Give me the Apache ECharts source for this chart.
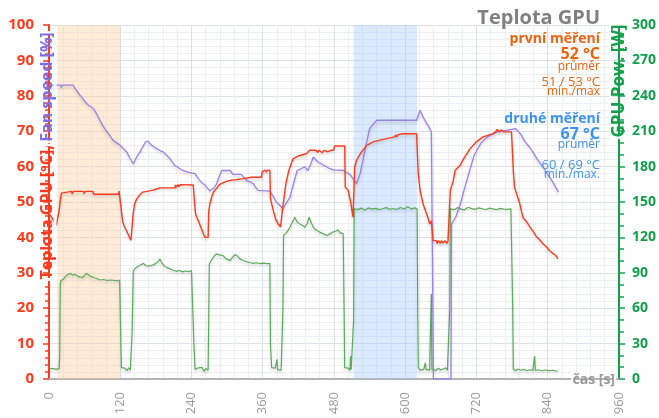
<!DOCTYPE html>
<html><head><meta charset="utf-8">
<script src="https://cdn.jsdelivr.net/npm/echarts@6/dist/echarts.min.js"></script>
<style>html,body{margin:0;padding:0;background:#fff}#c{width:659px;height:418px}</style>
</head><body><div id="c"></div>
<script>
// time ticks [s]
const timeTicks = [0,120,240,360,480,600,720,840,960];
// shaded test phases [start s, end s]
const phase1 = [14, 120];
const phase2 = [513, 620];
// GPU temperature [°C]
const temp = [[0,46.8],[4,45.8],[8,44.6],[12,43.4],[15,43.0],[17,47.5],[19,50.5],[21,52.5],[24,53.0],[38,53.0],[39,52.3],[41,53.0],[58,53.0],[59,52.4],[61,53.0],[74,53.0],[75,52.2],[117,52.2],[118,53.1],[121,53.1],[122,47.5],[124,44.5],[127,43.0],[131,41.8],[135,40.2],[138,39.2],[141,39.2],[142,47],[144,49.3],[147,50.6],[150,51.4],[153,52],[158,52.8],[172,53.2],[180,53.6],[187,54.0],[212,54.0],[213,54.8],[215,54.2],[217,54.9],[219,54.3],[221,54.9],[243,54.8],[245,50],[247,46.5],[252,44.5],[256,42.8],[260,41],[263,40.0],[268,40.0],[269,47.2],[271,49.5],[274,51.4],[277,52.8],[282,53.8],[286,54.7],[290,55.2],[296,55.6],[304,56.1],[314,56.3],[327,56.6],[341,57.0],[358,57.0],[359,58.5],[361,58.9],[362,58.3],[364,59.0],[366,58.4],[368,59.0],[372,59.0],[373,51],[375,49.5],[378,47.5],[382,45.0],[386,43.8],[390,43.0],[392,42.9],[393,47.5],[396,51.4],[399,55.2],[404,58.9],[408,60.8],[411,62.2],[420,63.0],[434,63.7],[439,64.6],[450,64.6],[452,64.0],[455,64.6],[460,63.9],[463,64.6],[470,64.2],[475,64.6],[479,64.6],[481,65.8],[498,65.8],[499,54.2],[504,53.3],[508,50],[512,45.7],[515,59.9],[518,61.8],[526,64.1],[535,66.0],[546,67.0],[568,67.9],[582,68.4],[584,69.0],[586,68.4],[588,69.0],[590,68.5],[596,69.3],[619,69.3],[622,58],[625,53.3],[630,49.5],[639,45.2],[641,43.8],[644,44.7],[647,39.1],[652,39.1],[654,38.3],[656,39.1],[659,38.3],[661,39.1],[664,38.4],[667,39.1],[670,38.3],[672,39],[675,38.5],[676,53.3],[681,56.1],[684,58.9],[692,60.3],[700,62.7],[709,65.0],[720,67.0],[731,68.4],[748,69.3],[752,69.8],[755,70.5],[758,69.8],[762,70.4],[766,69.8],[779,69.8],[782,58.9],[784,54.2],[793,49.5],[798,45.7],[804,44.5],[810,43.0],[815,41.8],[821,40.2],[826,39.4],[832,38.2],[838,37.3],[843,36.3],[849,35.4],[853,35.0],[857,34.0]];
// fan speed [%]
const fan = [[0,83.0],[20,83.0],[21,82.3],[22,83.0],[41,83.0],[44,82],[48,81.2],[52,80.2],[57,79.2],[61,78.3],[66,77.4],[75,76.4],[79,75.3],[83,74.0],[87,72.7],[92,71.2],[96,70.2],[100,69.3],[104,68.4],[108,67.4],[114,66.7],[120,66.0],[125,65.1],[131,64.1],[136,62.5],[142,60.8],[147,62.5],[153,64.1],[158,65.6],[163,67.1],[167,67.1],[173,66.0],[179,65.3],[186,64.6],[193,64.1],[198,63.2],[204,62.2],[208,61.2],[212,60.3],[218,59.7],[223,59.1],[235,58.4],[246,58.0],[250,57.0],[254,56.1],[258,55.4],[263,54.7],[267,53.9],[271,53.1],[277,53.9],[282,55.0],[286,56.9],[291,58.9],[305,58.9],[310,57.8],[324,57.8],[328,57.0],[333,56.1],[344,55.2],[348,54.2],[352,53.3],[372,53.1],[378,51.5],[383,50.0],[389,49.0],[394,48.1],[400,49.8],[406,51.4],[410,54],[414,56.5],[418,58.9],[431,59.9],[436,58.9],[441,60.8],[445,62.7],[449,62.0],[453,61.3],[464,60.3],[471,59.6],[479,59.1],[496,58.9],[507,57.8],[512,56.6],[518,55.2],[524,58.0],[528,61.2],[532,64.6],[536,67.6],[540,70.7],[546,72.0],[552,73.1],[619,73.1],[625,75.9],[630,74.0],[635,72.5],[640,71.2],[644,69.8],[647,69.8],[647.5,0],[677,0],[678,43.8],[685,45.7],[693,49.5],[699,53.3],[707,58.0],[716,63.2],[727,66.5],[738,68.4],[755,69.8],[770,70.2],[786,70.7],[794,69.3],[802,67.0],[810,65.4],[817,63.6],[822,62.2],[828,60.8],[834,59.4],[839,58.0],[845,56.6],[850,55.2],[854,54.0],[858,52.8]];
// GPU power [W]
const power = [[0,8.5],[3,7.2],[6,9.0],[9,7.5],[12,8.2],[15,7.4],[17,8.8],[18,20],[19,80],[20,83.3],[24,84.5],[28,87],[32,88.5],[36,89.5],[40,88],[44,88.8],[48,87.2],[52,86.5],[57,86.2],[60,87.5],[63,89.5],[66,88],[70,87],[75,86.2],[80,85.2],[86,83.9],[92,84.3],[98,83.5],[105,83.9],[112,83.3],[119,83.5],[120,83.3],[121,30],[122,9.6],[125,8],[128,9.2],[131,7],[134,9.5],[137,7.5],[139,8.5],[140,40],[142,91.8],[146,94],[150,95.5],[155,96.8],[159,98.0],[163,96],[167,95.6],[170,95.2],[175,96.5],[180,98],[184,99.7],[187,101.5],[190,98.5],[194,96],[198,94.6],[203,93.5],[208,92.4],[215,91.2],[220,92],[225,90.8],[230,91.5],[236,91.0],[240,92.0],[243,91.8],[244,30],[246,8.2],[249,7],[252,9.5],[255,8],[258,9.8],[261,6.5],[264,8.8],[268,7.5],[269,50],[270,97.5],[274,101],[278,104],[282,106],[285,107.4],[289,105],[293,104.6],[298,102],[301,101.5],[305,100.3],[309,103],[313,105.5],[315,106.5],[318,104],[321,102],[324,100.9],[329,100],[334,99.2],[339,98.5],[344,98.0],[350,98.5],[356,97.8],[362,98.2],[367,97.8],[372,98.0],[373,30],[375,9.6],[378,8],[381,9.2],[384,16.7],[385,8],[388,9.5],[391,7.5],[393,8.5],[394,60],[395,121.6],[400,124],[404,127],[408,131],[412,135],[414,137.1],[418,133],[422,131.5],[427,130],[431,128.6],[435,132],[438,137.1],[442,132],[446,128],[451,125.8],[456,124.5],[462,123],[468,121.6],[473,123],[478,124.5],[483,125.2],[487,126.4],[490,124],[493,125.5],[495.5,123],[497,60],[498,9.6],[501,8],[504,9.2],[507,7.5],[508,19.5],[509,8],[512,8.8],[513,50],[514,144.2],[520,143.5],[526,144.8],[532,143.2],[538,145],[544,144],[550,144.6],[556,143.5],[562,144.3],[568,145.2],[574,143.8],[580,144.5],[586,143.6],[592,145.4],[598,144],[604,146],[610,144.2],[616,145],[620,144.2],[621,60],[622,9.6],[625,7.5],[628,9],[631,8],[634,13.9],[635,8.2],[638,9.5],[641,7.5],[643,9],[644,72],[645,8],[648,8.8],[652,7.2],[656,9.1],[660,7.6],[664,8.4],[668,9.5],[671,7.4],[674,8.2],[675,60],[676,144.2],[682,143.5],[688,145.2],[694,144],[700,143.4],[706,145.6],[712,144.4],[718,143.8],[724,145],[730,144.3],[736,143.6],[742,144.8],[748,144.1],[754,143.5],[760,144.6],[766,144],[772,143.7],[778,144.2],[780,144.2],[781,60],[782,8.2],[786,7],[790,8.5],[795,7.4],[800,8.2],[805,7.0],[810,7.8],[815,7.5],[818,19.5],[819,7.2],[825,7.8],[830,7.0],[836,7.6],[842,7.1],[848,7.4],[853,6.9],[857,6.8]];

const FONT = 'Open Sans';
const RED = '#ff3a1c', PURPLE = '#9a82ea', GREEN = '#5aac5a', AXG = '#12a04a';
const ORANGE_T = '#ea640e', BLUE_T = '#3c92f0';

const shadow = {shadowColor:'rgba(0,0,0,0.18)', shadowBlur:3, shadowOffsetY:2};
const chart = echarts.init(document.getElementById('c'), null, {renderer:'canvas'});
function txt(x, y, s, size, color, weight){
  return {type:'text', x:x, y:y, z:100, zlevel:1, style:{text:s, fill:color, font: (weight||'normal')+' '+size+'px "'+FONT+'"', align:'right', verticalAlign:'middle'}};
}
const halo = {textBorderColor:'#fff', textBorderWidth:2.5, strokeFirst:true};
chart.setOption({
  animation:false,
  grid:{left:49, right:40, top:25, bottom:39},
  xAxis:{type:'value', min:0, max:960, interval:120,
    axisLine:{onZero:false, lineStyle:{color:'#b4b4b4', width:2}},
    axisTick:{show:false},
    axisLabel:{rotate:90, color:'#9a9a9a', fontSize:13, fontFamily:FONT, margin:13,
      customValues: timeTicks},
    splitLine:{show:true, lineStyle:{color:'#dcdfe6', width:1}},
    minorTick:{show:false, splitNumber:5},
    minorSplitLine:{show:true, lineStyle:{color:'#eceef2', width:1}}
  },
  yAxis:[
    {type:'value', min:0, max:100, interval:10, position:'left',
      axisLine:{show:true, onZero:false, lineStyle:{color:RED, width:2}},
      axisTick:{show:true, length:6, lineStyle:{color:RED, width:1.5}},
      minorTick:{show:true, splitNumber:5, length:4, lineStyle:{color:RED, width:1.5}},
      axisLabel:{color:RED, fontSize:15, fontWeight:'bold', fontFamily:FONT, margin:15},
      splitLine:{show:true, lineStyle:{color:'#dcdfe6', width:1}},
      minorSplitLine:{show:true, lineStyle:{color:'#eceef2', width:1}}
    },
    {type:'value', min:0, max:300, interval:30, position:'right',
      axisLine:{show:true, onZero:false, lineStyle:{color:AXG, width:2}},
      axisTick:{show:true, length:6, lineStyle:{color:AXG, width:1.5}},
      minorTick:{show:true, splitNumber:3, length:5, lineStyle:{color:AXG, width:1.5}},
      axisLabel:{color:AXG, fontSize:14, fontWeight:'bold', fontFamily:FONT, margin:13},
      splitLine:{show:false}
    }
  ],
  series:[
    {type:'line', name:'bands', data:[], silent:true,
      markArea:{silent:true, data:[
        [{xAxis:phase1[0], itemStyle:{color:'rgba(252,210,165,0.42)'}},{xAxis:phase1[1]}],
        [{xAxis:phase2[0], itemStyle:{color:'rgba(160,200,250,0.38)'}},{xAxis:phase2[1]}]
      ]}},
    {type:'line', name:'GPU Pow.', yAxisIndex:1, data:power, showSymbol:false, lineStyle:Object.assign({color:GREEN, width:1.2}, shadow), itemStyle:{color:GREEN}},
    {type:'line', name:'Fan speed', yAxisIndex:0, data:fan, showSymbol:false, lineStyle:Object.assign({color:PURPLE, width:1.3}, shadow), itemStyle:{color:PURPLE}},
    {type:'line', name:'Teplota GPU', yAxisIndex:0, data:temp, showSymbol:false, lineStyle:Object.assign({color:RED, width:1.4}, shadow), itemStyle:{color:RED}}
  ],
  graphic:[
    txt(600, 18, 'Teplota GPU', 20, '#808080', 'bold'),
    txt(600, 39, 'první měření', 14, ORANGE_T, 'bold'),
    txt(600, 54, '52 °C', 16, ORANGE_T, 'bold'),
    txt(600, 67, 'průměr', 12, ORANGE_T),
    txt(600, 82, '51 / 53 °C', 13, ORANGE_T),
    txt(600, 92, 'min./max', 12, ORANGE_T),
    txt(600, 119, 'druhé měření', 14, BLUE_T, 'bold'),
    txt(600, 134, '67 °C', 16, BLUE_T, 'bold'),
    txt(600, 145, 'průměr', 12, BLUE_T),
    txt(600, 165, '60 / 69 °C', 13, BLUE_T),
    txt(600, 175, 'min./max.', 12, BLUE_T),
    {type:'text', x:47, y:156, rotation:Math.PI/2, z:100, zlevel:1, style:Object.assign({
      text:'{a|Teplota GPU [°C],} {b|Fan speed [%]}', align:'center', verticalAlign:'middle',
      rich:{a:Object.assign({fill:RED, fontSize:16, fontWeight:'bold', fontFamily:FONT}, halo),
            b:Object.assign({fill:'#7b6fe6', fontSize:16, fontWeight:'bold', fontFamily:FONT}, halo)}}, halo)},
    {type:'text', x:619, y:81, rotation:Math.PI/2, z:100, zlevel:1, style:Object.assign({
      text:'GPU Pow. [W]', fill:AXG, font:'bold 17px "'+FONT+'"', align:'center', verticalAlign:'middle'}, halo)},
    {type:'text', x:615, y:380, z:100, zlevel:1, style:Object.assign({
      text:'čas [s]', fill:'#999999', font:'bold 14px "'+FONT+'"', align:'right', verticalAlign:'middle'}, halo)}
  ]
});
</script></body></html>
